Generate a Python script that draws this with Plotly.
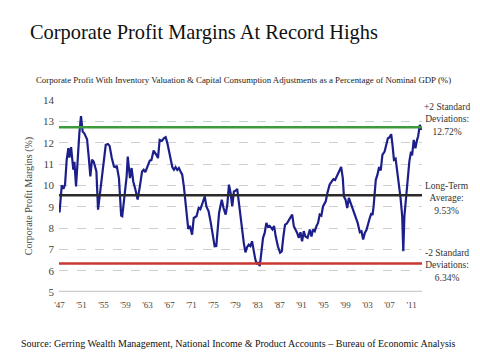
import plotly.graph_objects as go

years = [1947.0, 1947.4, 1947.7, 1948.0, 1948.3, 1948.6, 1948.8, 1949.1, 1949.5, 1949.7,
         1950.0, 1950.3, 1950.6, 1950.9, 1951.2, 1951.5, 1951.7, 1952.0, 1952.3, 1952.6,
         1952.9, 1953.2, 1953.7, 1954.0, 1954.3, 1954.6, 1955.0, 1955.4, 1955.8, 1956.1,
         1956.5, 1956.9, 1957.2, 1957.4, 1957.8, 1958.2, 1958.4, 1958.8, 1959.2, 1959.4,
         1959.8, 1960.1, 1960.4, 1960.8, 1961.2, 1961.6, 1962.0, 1962.3, 1962.6, 1963.1,
         1963.4, 1963.7, 1964.1, 1964.6, 1964.9, 1965.2, 1965.6, 1966.0, 1966.3, 1966.6,
         1966.9, 1967.2, 1967.5, 1967.8, 1968.1, 1968.4, 1968.7, 1969.0, 1969.3, 1969.6,
         1969.9, 1970.2, 1970.4, 1970.7, 1971.1, 1971.4, 1971.9, 1972.3, 1972.6, 1972.9,
         1973.4, 1973.7, 1974.1, 1974.5, 1974.9, 1975.2, 1975.5, 1976.0, 1976.3, 1976.5,
         1976.8, 1977.2, 1977.5, 1977.8, 1978.1, 1978.4, 1978.7, 1979.0, 1979.3, 1979.6,
         1979.9, 1980.2, 1980.5, 1980.8, 1981.1, 1981.4, 1981.7, 1982.0, 1982.3, 1982.6,
         1982.9, 1983.1, 1983.4, 1983.7, 1984.0, 1984.3, 1984.6, 1984.9, 1985.2, 1985.7,
         1986.0, 1986.3, 1986.7, 1987.1, 1987.4, 1987.7, 1988.0, 1988.3, 1988.7, 1989.0,
         1989.3, 1989.6, 1989.9, 1990.2, 1990.5, 1990.8, 1991.1, 1991.4, 1991.7, 1992.1,
         1992.5, 1992.8, 1993.1, 1993.4, 1993.7, 1994.0, 1994.3, 1994.6, 1994.9, 1995.4,
         1995.7, 1996.1, 1996.5, 1996.8, 1997.1, 1997.5, 1997.9, 1998.2, 1998.5, 1998.7,
         1999.0, 1999.3, 1999.6, 1999.9, 2000.3, 2000.8, 2001.2, 2001.6, 2001.9, 2002.2,
         2002.5, 2002.8, 2003.1, 2003.4, 2003.7, 2003.9, 2004.1, 2004.5, 2004.8, 2005.1,
         2005.4, 2005.7, 2006.1, 2006.4, 2006.7, 2007.0, 2007.3, 2007.5, 2007.8, 2008.1,
         2008.4, 2008.7, 2009.0, 2009.3, 2009.5, 2009.7, 2010.0, 2010.3, 2010.6, 2010.9,
         2011.1, 2011.4, 2011.7, 2012.0, 2012.2, 2012.5, 2012.8]
margins = [8.73, 10.0, 9.84, 10.03, 11.2, 11.74, 11.3, 11.79, 10.73, 11.1,
           9.95, 11.35, 12.44, 13.25, 12.52, 12.44, 12.29, 12.16, 11.35, 10.42,
           11.2, 11.12, 10.65, 8.86, 9.51, 10.1, 11.04, 11.9, 11.94, 11.85,
           11.28, 10.88, 10.85, 10.92, 10.34, 8.58, 8.55, 9.64, 10.42, 11.35,
           10.34, 10.81, 10.18, 9.79, 9.33, 9.95, 10.65, 10.73, 10.62, 10.96,
           11.16, 11.18, 11.63, 11.43, 11.28, 12.13, 12.08, 12.21, 12.26, 11.98,
           11.58, 11.28, 10.86, 10.73, 10.85, 10.72, 10.81, 10.65, 10.5, 9.95,
           9.17, 8.24, 7.96, 8.1, 7.69, 8.47, 8.55, 8.94, 8.88, 9.09,
           9.48, 9.01, 8.78, 8.24, 7.61, 7.14, 7.15, 8.7, 9.09, 9.33,
           8.95, 8.63, 9.09, 10.03, 9.64, 9.01, 9.71, 9.75, 9.83, 9.17,
           8.55, 8.0, 7.3, 6.86, 7.1, 7.22, 7.15, 7.38, 6.84, 6.52,
           6.29, 6.4, 6.21, 7.0, 7.54, 7.77, 8.24, 8.05, 8.1, 7.93,
           8.1, 7.61, 7.14, 6.84, 6.9, 7.61, 8.16, 8.2, 8.39, 8.5,
           8.63, 8.08, 7.95, 7.77, 7.54, 7.8, 7.38, 7.85, 7.6, 7.54,
           7.93, 7.6, 7.93, 7.85, 8.08, 8.24, 8.63, 8.58, 9.01, 9.25,
           9.64, 10.03, 10.18, 10.29, 10.25, 10.5, 10.73, 10.86, 10.34, 9.48,
           9.33, 8.94, 9.41, 9.17, 8.86, 8.47, 8.24, 7.8, 7.85, 7.46,
           7.77, 7.9, 8.24, 8.47, 8.7, 8.6, 9.01, 10.26, 10.5, 10.86,
           10.7, 11.43, 11.58, 11.9, 12.21, 12.25, 12.4, 11.98, 11.2, 11.25,
           10.65, 9.95, 9.41, 8.55, 6.91, 8.55, 9.33, 10.42, 11.12, 11.58,
           11.4, 12.13, 11.74, 12.13, 12.3, 12.83, 12.6]

tick_years = [1947, 1951, 1955, 1959, 1963, 1967, 1971, 1975, 1979, 1983, 1987, 1991, 1995, 1999, 2003, 2007, 2011]
tick_labels = ["'47", "'51", "'55", "'59", "'63", "'67", "'71", "'75", "'79", "'83", "'87", "'91", "'95", "'99", "'03", "'07", "'11"]

plus2sd = 12.72
average = 9.53
minus2sd = 6.34

serif = "Liberation Serif, DejaVu Serif, serif"
x0, x1 = 1946.9, 2012.9

fig = go.Figure()
fig.add_trace(go.Scatter(x=years, y=margins, mode="lines",
                         line=dict(color="#1c1f8a", width=2.2), hoverinfo="skip", showlegend=False))

for val, col in [(plus2sd, "#3c9a3c"), (average, "#2a2a2a"), (minus2sd, "#c9382e")]:
    fig.add_shape(type="line", xref="x", yref="y", x0=x0, x1=x1, y0=val, y1=val,
                  line=dict(color=col, width=2.5))

fig.add_shape(type="line", xref="x", yref="y", x0=x0, x1=x1, y0=5, y1=5,
              line=dict(color="#cccccc", width=2.5), layer="below")

ann_font = dict(size=9.5, color="#333333", family=serif)

# page body has an 8px margin, so the figure is sized 472x352 to fill the 480x360 window
fig.update_layout(
    width=472, height=352,
    margin=dict(l=51, r=58, t=92, b=68, autoexpand=False),
    paper_bgcolor="white", plot_bgcolor="white",
    font=dict(family=serif, color="#333333"),
    xaxis=dict(range=[x0, x1], tickvals=tick_years, ticktext=tick_labels,
               showgrid=False, zeroline=False, showline=False, ticks="",
               ticklabelstandoff=6,
               tickfont=dict(size=9, color="#444444")),
    yaxis=dict(range=[5, 14], dtick=1, showgrid=True, gridcolor="#cfcfcf",
               griddash="dash", gridwidth=1, zeroline=False, showline=False, ticks="",
               ticklabelstandoff=4,
               tickfont=dict(size=11, color="#444444"),
               title=dict(text="Corporate Profit Margins (%)", font=dict(size=10, color="#444444"), standoff=8)),
    annotations=[
        dict(text="Corporate Profit Margins At Record Highs", xref="paper", yref="paper",
             x=-0.0854, y=1.349, xanchor="left", yanchor="middle", showarrow=False,
             font=dict(size=20.4, color="#111111", family=serif)),
        dict(text="Corporate Profit With Inventory Valuation &amp; Capital Consumption Adjustments as a Percentage of Nominal GDP (%)",
             xref="paper", yref="paper", x=0.508, y=1.104, xanchor="center", yanchor="middle",
             showarrow=False, font=dict(size=8.8, color="#222222", family=serif)),
        dict(text="+2 Standard<br>Deviations:<br>12.72%", xref="paper", yref="paper", x=1.07, y=0.898,
             xanchor="center", yanchor="middle", showarrow=False, align="center", font=ann_font),
        dict(text="Long-Term<br>Average:<br>9.53%", xref="paper", yref="paper", x=1.07, y=0.486,
             xanchor="center", yanchor="middle", showarrow=False, align="center", font=ann_font),
        dict(text="-2 Standard<br>Deviations:<br>6.34%", xref="paper", yref="paper", x=1.07, y=0.137,
             xanchor="center", yanchor="middle", showarrow=False, align="center", font=ann_font),
        dict(text="Source: Gerring Wealth Management, National Income &amp; Product Accounts – Bureau of Economic Analysis",
             xref="paper", yref="paper", x=0.4945, y=-0.266, xanchor="center", yanchor="middle",
             showarrow=False, font=dict(size=10, color="#111111", family=serif)),
    ],
)

fig.write_html("out.html")
